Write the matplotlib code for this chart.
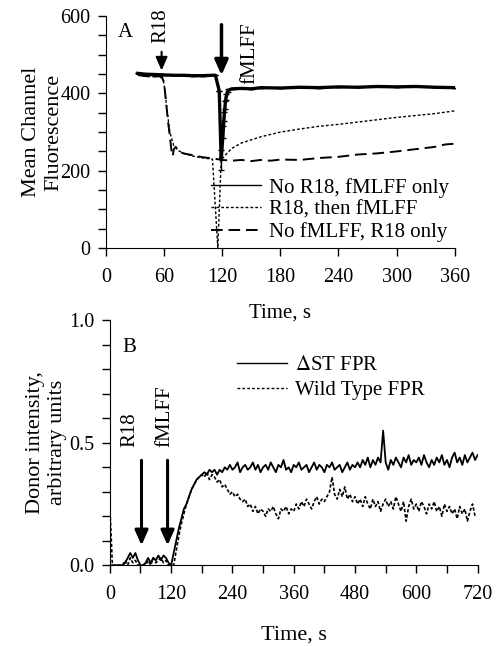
import matplotlib
matplotlib.use("Agg")
import matplotlib.pyplot as plt
from matplotlib.lines import Line2D
import numpy as np

plt.rcParams['font.family'] = ['Liberation Serif', 'DejaVu Serif']
plt.rcParams['mathtext.fontset'] = 'stix'

# ---- panel A data ----
t_no_r18 = [33, 40, 50, 60, 70, 80, 90, 100, 110, 113, 117, 119, 121, 122, 123, 124, 126,
            130, 140, 150, 160, 180, 200, 220, 240, 260, 280, 300, 320, 340, 360]
mcf_no_r18 = [452, 450, 449, 448, 447, 447, 446, 446, 447, 447, 407, 228, 300, 340, 370, 390, 408,
              412, 413, 412, 415, 414, 416, 415, 417, 416, 418, 417, 418, 416, 415]
err_no_r18 = [0, 0, 0, 0, 0, 0, 0, 0, 0, 0, 0, 26, 15, 12, 10, 8, 4,
              0, 0, 0, 0, 0, 0, 0, 0, 0, 0, 0, 0, 0, 0]

t_r18_then = [33, 40, 50, 58, 60, 63, 66, 70, 75, 80, 90, 100, 110, 115.5, 119, 125, 130, 140,
              150, 160, 170, 180, 200, 220, 240, 260, 280, 300, 320, 340, 360]
mcf_r18_then = [447, 445, 443, 445, 425, 360, 300, 265, 252, 245, 238, 233, 230, 0, 228, 245, 258,
                272, 280, 288, 294, 300, 308, 315, 320, 326, 332, 338, 343, 348, 355]

t_no_fmlff = [33, 40, 50, 55, 58, 60, 62, 64, 66, 68, 69, 70, 72, 75, 80, 90, 100, 110, 120, 130,
              140, 150, 160, 170, 180, 200, 220, 240, 260, 280, 300, 320, 340, 350, 360]
mcf_no_fmlff = [448, 445, 443, 445, 440, 430, 380, 330, 290, 245, 238, 255, 262, 250, 245, 240, 235,
                232, 228, 226, 228, 225, 228, 226, 229, 228, 233, 236, 242, 245, 250, 256, 262, 268, 270]

# ---- panel B data (every 5 s, 0..720) ----
t_b = list(range(0, 725, 5))
dst_fpr = [0.00, 0.00, 0.00, 0.00, 0.00, 0.00, 0.01, 0.03, 0.05, 0.03, 0.05, 0.02, 0.00, 0.00,
           0.01, 0.03, 0.01, 0.03, 0.02, 0.04, 0.02, 0.04, 0.03, 0.01,
           0.00, 0.05, 0.10, 0.15, 0.19, 0.23, 0.25, 0.28, 0.31, 0.33, 0.35, 0.36, 0.37, 0.38,
           0.37, 0.39, 0.38, 0.39, 0.37, 0.39, 0.38, 0.40, 0.39,
           0.41, 0.39, 0.40, 0.42, 0.38, 0.40, 0.41, 0.39, 0.40, 0.42,
           0.39, 0.41, 0.38, 0.40, 0.41, 0.39, 0.42, 0.40, 0.38, 0.41,
           0.40, 0.43, 0.39, 0.40, 0.38, 0.41, 0.40, 0.42, 0.39, 0.40,
           0.41, 0.38, 0.40, 0.42, 0.39, 0.41, 0.40, 0.38, 0.41, 0.40,
           0.42, 0.39, 0.40, 0.41, 0.38, 0.40, 0.42, 0.39, 0.41, 0.40,
           0.42, 0.40, 0.43, 0.41, 0.44, 0.40, 0.43, 0.41, 0.44, 0.42, 0.55, 0.42, 0.39, 0.43,
           0.41, 0.44, 0.42, 0.40, 0.44, 0.42, 0.45, 0.41, 0.43, 0.42, 0.44, 0.41, 0.45, 0.42,
           0.40, 0.43, 0.41, 0.44, 0.42, 0.45, 0.41, 0.43, 0.40, 0.44, 0.46, 0.42, 0.44, 0.41,
           0.45, 0.42, 0.44, 0.46, 0.43, 0.45]
wt_fpr = [0.24, 0.00, 0.00, 0.00, 0.00, 0.00, 0.02, 0.00, 0.03, 0.01, 0.02, 0.00, 0.00, 0.00,
          0.00, 0.02, 0.00, 0.03, 0.01, 0.02, 0.03, 0.01, 0.02, 0.00,
          0.00, 0.00, 0.06, 0.12, 0.17, 0.21, 0.25, 0.28, 0.31, 0.33, 0.35, 0.36, 0.37, 0.36,
          0.38, 0.35, 0.37, 0.36, 0.34, 0.35, 0.32, 0.33, 0.31,
          0.29, 0.30, 0.28, 0.29, 0.27, 0.26, 0.27, 0.24, 0.25, 0.22,
          0.24, 0.21, 0.23, 0.22, 0.20, 0.23, 0.22, 0.24, 0.21, 0.19,
          0.23, 0.22, 0.24, 0.21, 0.23, 0.22, 0.25, 0.23, 0.26, 0.24,
          0.27, 0.25, 0.23, 0.26, 0.28, 0.25, 0.27, 0.26, 0.28, 0.30,
          0.36, 0.29, 0.27, 0.31, 0.28, 0.32, 0.27, 0.29, 0.26, 0.28,
          0.25, 0.27, 0.24, 0.28, 0.25, 0.23, 0.27, 0.24, 0.26, 0.22, 0.25, 0.27, 0.24, 0.26,
          0.23, 0.28, 0.25, 0.22, 0.26, 0.18, 0.24, 0.27, 0.23, 0.25, 0.22, 0.26, 0.24, 0.21,
          0.25, 0.23, 0.26, 0.22, 0.24, 0.20, 0.25, 0.22, 0.24, 0.21, 0.23, 0.19, 0.24, 0.21,
          0.23, 0.18, 0.22, 0.25, 0.20, np.nan]

fs = 15
fig = plt.figure(figsize=(4.97, 6.46), dpi=100)
ax_1 = fig.add_axes([0.213, 0.616, 0.702, 0.359])
ax_2 = fig.add_axes([0.221, 0.125, 0.740, 0.379])
ax_2.patch.set_visible(False)

# panel A
ax_1.plot(t_no_fmlff, mcf_no_fmlff, color='k', lw=1.4, ls=(0, (6, 3)))
ax_1.plot(t_r18_then, mcf_r18_then, color='k', lw=1.0, ls=(0, (2, 1.5)))
ax_1.errorbar(t_no_r18, mcf_no_r18, yerr=err_no_r18, color='k', lw=2.4, elinewidth=1, capsize=2.5)

ax_1.set_xlim(0, 360)
ax_1.set_ylim(0, 600)
ax_1.set_xticks(range(0, 361, 60))
ax_1.set_yticks([0, 200, 400, 600])
ax_1.set_yticks(range(0, 601, 50), minor=True)
ax_1.set_xlabel("Time, s", fontsize=fs, labelpad=12)
ax_1.set_ylabel("Mean Channel\nFluorescence", fontsize=16, labelpad=-2, linespacing=1.2)

ax_1.text(12, 545, "A", fontsize=fs)
ax_1.text(57, 575, "R18", rotation=90, fontsize=fs, ha='center', va='center', clip_on=False)
ax_1.annotate("", xy=(57.5, 452), xytext=(57.5, 515),
              arrowprops=dict(arrowstyle='-|>,head_width=0.35,head_length=0.8', lw=1.5, color='k'))
ax_1.annotate("", xy=(119.3, 440), xytext=(119.3, 585), annotation_clip=False,
              arrowprops=dict(arrowstyle='-|>,head_width=0.4,head_length=0.9', lw=2.5, color='k'))
ax_1.text(149, 505, "fMLFF", rotation=90, fontsize=fs, ha='center', va='center')

handles_1 = [Line2D([], [], color='k', lw=1.0),
             Line2D([], [], color='k', lw=1.0, ls=(0, (2, 1.5))),
             Line2D([], [], color='k', lw=1.4, ls=(0, (6, 3)))]
ax_1.legend(handles_1, ["No R18, fMLFF only", "R18, then fMLFF", "No fMLFF, R18 only"],
            loc='lower left', bbox_to_anchor=(0.277, -0.01), frameon=False, fontsize=fs,
            handlelength=2.4, handletextpad=0.4, labelspacing=0.12, borderaxespad=0)

# panel B
ax_2.plot(t_b, wt_fpr, color='k', lw=1.2, ls=(0, (2, 1.2)))
ax_2.plot(t_b, dst_fpr, color='k', lw=1.3)

ax_2.set_xlim(0, 720)
ax_2.set_ylim(0, 1.0)
ax_2.set_xticks(range(0, 721, 120))
ax_2.set_xticks(range(0, 721, 60), minor=True)
ax_2.set_yticks([0.0, 0.5, 1.0])
ax_2.set_yticklabels(["0.0", "0.5", "1.0"])
ax_2.set_yticks(np.arange(0, 1.01, 0.1), minor=True)
ax_2.set_xlabel("Time, s", fontsize=16, labelpad=16)
ax_2.set_ylabel("Donor intensity,\narbitrary units", fontsize=16, labelpad=2, linespacing=1.2)

ax_2.text(25, 0.87, "B", fontsize=fs)
ax_2.text(39, 0.555, "R18", rotation=90, fontsize=fs, ha='center', va='center')
ax_2.text(108, 0.61, "fMLFF", rotation=90, fontsize=fs, ha='center', va='center')
for xa in [62, 113]:
    ax_2.annotate("", xy=(xa, 0.07), xytext=(xa, 0.44),
                  arrowprops=dict(arrowstyle='-|>,head_width=0.4,head_length=0.9', lw=2.2, color='k'))

handles_2 = [Line2D([], [], color='k', lw=1.0),
             Line2D([], [], color='k', lw=1.0, ls=(0, (2, 1.5)))]
ax_2.legend(handles_2, [r"$\Delta$ST FPR", "Wild Type FPR"],
            loc='upper left', bbox_to_anchor=(0.323, 0.89), frameon=False, fontsize=fs,
            handlelength=2.4, handletextpad=0.4, labelspacing=0.25, borderaxespad=0)

for ax in (ax_1, ax_2):
    ax.spines['top'].set_visible(False)
    ax.spines['right'].set_visible(False)
    ax.tick_params(which='both', direction='out', length=6, width=1, labelsize=14.5, pad=5)
    ax.tick_params(axis='x', which='both', pad=8)

fig.savefig("out.png", dpi=100)
